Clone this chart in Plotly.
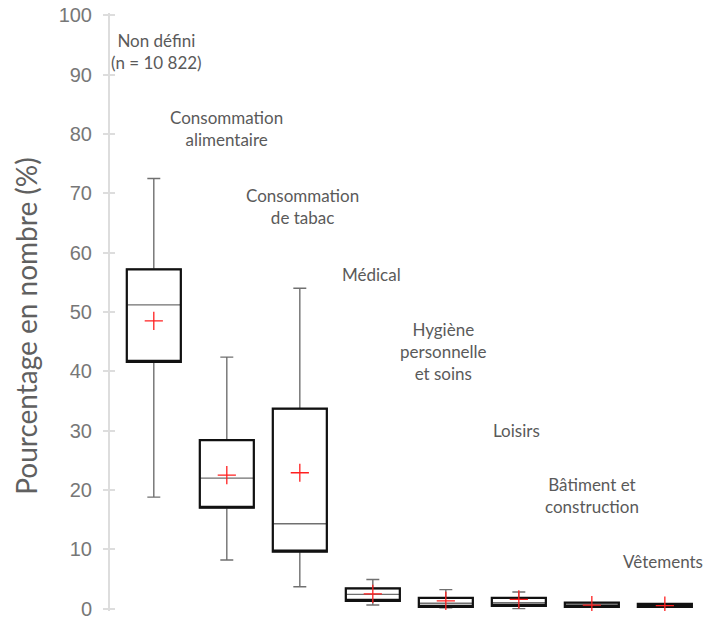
import plotly.graph_objects as go

categories = ["Non défini", "Consommation alimentaire", "Consommation de tabac", "Médical",
              "Hygiène personnelle et soins", "Loisirs", "Bâtiment et construction", "Vêtements"]
label_texts = ["Non défini<br>(n = 10 822)", "Consommation<br>alimentaire", "Consommation<br>de tabac",
               "Médical", "Hygiène<br>personnelle<br>et soins", "Loisirs",
               "Bâtiment et<br>construction", "Vêtements"]
q1 = [41.6, 17.0, 9.6, 1.3, 0.3, 0.45, 0.3, 0.3]
median = [51.2, 22.0, 14.3, 2.4, 0.9, 1.0, 0.6, 0.5]
q3 = [57.2, 28.4, 33.7, 3.4, 1.8, 1.8, 1.0, 0.8]
lower = [18.8, 8.2, 3.7, 0.6, 0.15, 0.0, 0.3, 0.3]
upper = [72.5, 42.4, 54.0, 4.9, 3.2, 2.8, 1.0, 0.8]
mean = [48.5, 22.5, 22.9, 2.5, 1.3, 1.55, 0.6, 0.5]
y_ticks = [0, 10, 20, 30, 40, 50, 60, 70, 80, 90, 100]
y_title = "Pourcentage en nombre (%)"

# label layout (positions in data units)
label_y = [93.9, 80.9, 67.8, 56.4, 43.3, 30.0, 19.0, 7.9]
label_dx = [3, 0, 3, -1, -2, -2, 0, -2]

fig = go.Figure()

# whiskers + median (gray, thin)
fig.add_trace(go.Box(
    x=categories, q1=q1, median=median, q3=q3, lowerfence=lower, upperfence=upper,
    width=0.74, whiskerwidth=0.24, line=dict(color="#707070", width=1.4),
    fillcolor="rgba(0,0,0,0)", boxpoints=False, showlegend=False, hoverinfo="skip",
))
# box outline (black, thick)
fig.add_trace(go.Box(
    x=categories, q1=q1, median=q1, q3=q3, lowerfence=q1, upperfence=q3,
    width=0.74, whiskerwidth=0, line=dict(color="#111111", width=2.2),
    fillcolor="rgba(0,0,0,0)", boxpoints=False, showlegend=False,
))
# means
fig.add_trace(go.Scatter(
    x=categories, y=mean, mode="markers",
    marker=dict(symbol="cross-thin", size=13, line=dict(color="#ff2020", width=1.3)),
    showlegend=False,
))

for c, t, yy, dx in zip(categories, label_texts, label_y, label_dx):
    fig.add_annotation(x=c, y=yy, text=t, showarrow=False, xshift=dx,
                       font=dict(family="Lato", size=17, color="#5a5a5a"),
                       align="center", yanchor="middle")

# y-axis title as rotated annotation
fig.add_annotation(xref="paper", yref="paper", x=0, y=0.477, xanchor="center", yanchor="middle",
                   xshift=-84, text=y_title, textangle=-90, showarrow=False,
                   font=dict(family="Lato", size=28, color="#606060"))

fig.update_layout(
    width=705, height=620,
    margin=dict(l=110, r=0, t=13, b=7),
    paper_bgcolor="white", plot_bgcolor="white",
    boxmode="overlay",
    xaxis=dict(type="category", range=[-0.6, 7.55], showticklabels=False, showline=False,
               showgrid=False, zeroline=False, ticks=""),
    yaxis=dict(range=[-0.4, 100.4], tickvals=y_ticks, showgrid=False, zeroline=False,
               showline=True, linecolor="#dddddd", linewidth=2,
               ticks="outside", ticklen=5, tickcolor="#dddddd", tickwidth=1.5,
               ticklabelstandoff=7, ticklabeloverflow="allow",
               tickfont=dict(family="Liberation Sans", size=20, color="#777777")),
    yaxis2=dict(range=[-0.4, 100.4], overlaying="y", side="left", tickvals=y_ticks,
                showgrid=False, zeroline=False, showline=False, showticklabels=False,
                ticks="inside", ticklen=5, tickcolor="#dddddd", tickwidth=1.5),
)
fig.add_trace(go.Scatter(x=[None], y=[None], yaxis="y2", showlegend=False))

fig.write_html("out.html", config={"displayModeBar": False},
               post_script="document.body.style.margin='0';")
